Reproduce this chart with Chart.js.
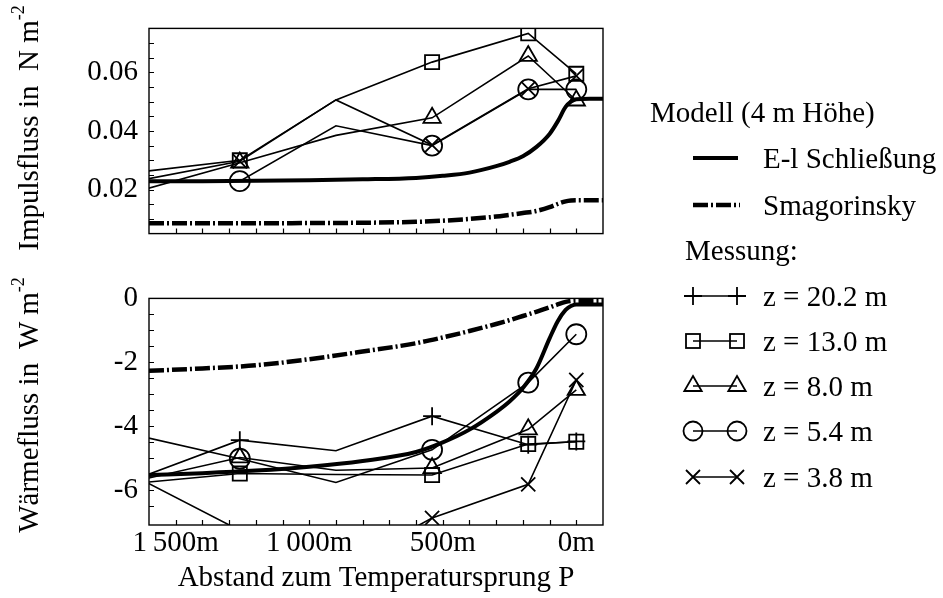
<!DOCTYPE html>
<html>
<head>
<meta charset="utf-8">
<script src="https://cdn.jsdelivr.net/npm/chart.js@4.4.0/dist/chart.umd.min.js"></script>
<style>
body { margin:0; background:#fff; }
#wrap { position:relative; width:943px; height:598px; overflow:hidden; font-family:'Liberation Serif', 'Times New Roman', serif; font-size:29px; color:#000; }
canvas { position:absolute; left:0; }
.ytitle { position:absolute; white-space:nowrap; line-height:1; transform:translate(-50%,-50%) rotate(-90deg); }
.ytitle sup { font-size:18px; position:relative; top:-4px; }
.leg { position:absolute; white-space:nowrap; line-height:1; transform:translateY(-50%); }
#legsym { position:absolute; left:0; top:0; }
</style>
</head>
<body>
<div id="wrap">
  <canvas id="topChart" width="620" height="262" style="top:0"></canvas>
  <canvas id="botChart" width="620" height="328" style="top:270px"></canvas>
  <div class="ytitle" style="left:28px; top:128px">Impulsfluss in&nbsp; N m<sup>-2</sup></div>
  <div class="ytitle" style="left:28px; top:405px">Wärmefluss in&nbsp; W m<sup>-2</sup></div>
  <svg id="legsym" width="943" height="598"></svg>
  <div id="legtext"></div>
</div>
<script>
// distances of the measurement masts (m before the jump P), left to right
const distances = [1620, 1260, 900, 540, 180, 0];
const hasMarker = [false, true, false, true, true, true];

// momentum flux, N m-2
const impSquare   = [0.0262, 0.0300, 0.0506, 0.0635, 0.0733, 0.0595];
const impTriangle = [0.0200, 0.0292, 0.0385, 0.0445, 0.0656, 0.0504];
const impCircle   = [0.0228, 0.0229, 0.0418, 0.0350, 0.0542, 0.0542];
const impCross    = [0.0234, 0.0297, 0.0506, 0.0352, 0.0544, 0.0588];

// heat flux, W m-2
const heatPlus     = [-5.55, -4.43, -4.76, -3.68, -4.57, -4.47];
const heatSquare   = [-5.75, -5.47, -5.50, -5.52, -4.55, -4.48];
const heatTriangle = [-5.65, -4.97, -5.37, -5.30, -4.09, -2.86];
const heatCircle   = [-4.33, -5.01, -5.75, -4.73, -2.63, -1.12];
const heatCross    = [-5.70, -7.25, -8.50, -6.86, -5.81, -2.55];

// model runs (4 m height)
const modelDist  = [1600, 1400, 1200, 1000, 800, 600, 500, 400, 300, 250, 200, 150, 100, 70, 40, 20, 0, -50, -100];
const impEl      = [0.0229, 0.0229, 0.0230, 0.0232, 0.0235, 0.0240, 0.0247, 0.0258, 0.0280, 0.0295, 0.0314, 0.0345, 0.0390, 0.0432, 0.0482, 0.0500, 0.0508, 0.0510, 0.0510];
const impSmag    = [0.0085, 0.0085, 0.0085, 0.0086, 0.0087, 0.0090, 0.0094, 0.0100, 0.0108, 0.0114, 0.0120, 0.0127, 0.0140, 0.0151, 0.0160, 0.0163, 0.0164, 0.0164, 0.0164];
const heatEl     = [-5.52, -5.46, -5.38, -5.26, -5.08, -4.80, -4.50, -4.10, -3.55, -3.22, -2.80, -2.20, -1.25, -0.72, -0.36, -0.24, -0.19, -0.19, -0.19];
const heatSmag   = [-2.26, -2.19, -2.09, -1.90, -1.66, -1.40, -1.22, -1.02, -0.80, -0.68, -0.55, -0.42, -0.28, -0.19, -0.11, -0.08, -0.07, -0.07, -0.07];

// axis labels
const distTicks = [1500, 1000, 500, 0];
const distTickLabels = ['1\u2009500m', '1\u2009000m', '500m', '0m'];
const impTicks = [0.02, 0.04, 0.06];
const heatTicks = [0, -2, -4, -6];

const legendItems = ['z = 20.2 m', 'z = 13.0 m', 'z = 8.0 m', 'z = 5.4 m', 'z = 3.8 m'];

const FONT = { family: "'Liberation Serif', 'Times New Roman', serif", size: 29 };
const HEAT_MIN = -7.08;

function pts(xs, ys) {
    return xs.map((x, i) => ({ x: x, y: ys[i] }));
}

function measSet(label, ys, style, yMin) {
    return {
        label: label,
        data: pts(distances, ys),
        borderColor: '#000',
        borderWidth: 1.6,
        pointStyle: style,
        // no symbol where the point lies outside the frame
        pointRadius: hasMarker.map((m, i) => (m && ys[i] >= yMin) ? (style === 'cross' ? 9 : 10) : 0),
        pointBorderWidth: 1.8,
        pointBorderColor: '#000',
        pointBackgroundColor: 'rgba(0,0,0,0)',
        tension: 0,
        clip: 0
    };
}

function modelSets(el, smag) {
    return [{
        label: 'E-l Schließung',
        data: pts(modelDist, el),
        borderColor: '#000',
        borderWidth: 4,
        pointRadius: 0,
        cubicInterpolationMode: 'monotone',
        clip: 0
    }, {
        label: 'Smagorinsky',
        data: pts(modelDist, smag),
        borderColor: '#000',
        borderWidth: 4.5,
        borderDash: [15, 3, 2, 3],
        pointRadius: 0,
        cubicInterpolationMode: 'monotone',
        clip: 0
    }];
}

// box round the plot and short ticks pointing inwards
const innerTicks = {
    id: 'innerTicks',
    afterDatasetsDraw(chart) {
        const ctx = chart.ctx;
        const a = chart.chartArea;
        const xs = chart.scales.x, ys = chart.scales.y;
        ctx.save();
        ctx.strokeStyle = '#000';
        ctx.lineWidth = 1.2;
        ctx.beginPath();
        xs.ticks.forEach(t => {
            const px = Math.round(xs.getPixelForValue(t.value)) + 0.5;
            if (px <= a.left + 1 || px >= a.right - 1) return;
            ctx.moveTo(px, a.bottom);
            ctx.lineTo(px, a.bottom - 5);
        });
        ys.ticks.forEach(t => {
            const py = Math.round(ys.getPixelForValue(t.value)) + 0.5;
            if (py <= a.top + 1 || py >= a.bottom - 1) return;
            ctx.moveTo(a.left, py);
            ctx.lineTo(a.left + 5, py);
        });
        ctx.stroke();
        ctx.lineWidth = 1.4;
        ctx.strokeRect(a.left, a.top, a.right - a.left, a.bottom - a.top);
        ctx.restore();
    }
};

function xScale(showLabels) {
    return {
        type: 'linear',
        reverse: true,
        min: -100,
        max: 1600,
        grid: { display: false, drawTicks: false },
        border: { display: false },
        ticks: {
            display: showLabels,
            stepSize: 100,
            autoSkip: false,
            maxRotation: 0,
            padding: 1,
            color: '#000',
            font: FONT,
            callback: v => {
                const i = distTicks.indexOf(v);
                return i >= 0 ? distTickLabels[i] : '';
            }
        },
        title: {
            display: showLabels,
            text: 'Abstand zum Temperatursprung P',
            color: '#000',
            font: FONT,
            padding: { top: 0, bottom: 2 }
        },
        afterFit: s => { s.height = showLabels ? 73 : 13; }
    };
}

function yScale(min, max, step, labels, fmt) {
    return {
        type: 'linear',
        min: min,
        max: max,
        grid: { display: false, drawTicks: false },
        border: { display: false },
        ticks: {
            stepSize: step,
            autoSkip: false,
            padding: 11,
            color: '#000',
            font: FONT,
            callback: v => {
                const hit = labels.find(l => Math.abs(l - v) < step / 10);
                return hit === undefined ? '' : fmt(hit);
            }
        },
        afterFit: s => { s.width = 149; }
    };
}

const common = {
    responsive: false,
    animation: false,
    devicePixelRatio: 1,
    plugins: { legend: { display: false }, tooltip: { enabled: false } }
};

new Chart(document.getElementById('topChart'), {
    type: 'line',
    data: {
        datasets: modelSets(impEl, impSmag).concat([
            measSet('z = 13.0 m', impSquare, 'rect', 0.005),
            measSet('z = 8.0 m', impTriangle, 'triangle', 0.005),
            measSet('z = 5.4 m', impCircle, 'circle', 0.005),
            measSet('z = 3.8 m', impCross, 'crossRot', 0.005)
        ])
    },
    options: Object.assign({}, common, {
        layout: { padding: { top: 22, right: 17, left: 0, bottom: 0 } },
        scales: {
            x: xScale(false),
            y: yScale(0.005, 0.075, 0.005, impTicks, v => v.toFixed(2))
        }
    }),
    plugins: [innerTicks]
});

new Chart(document.getElementById('botChart'), {
    type: 'line',
    data: {
        datasets: modelSets(heatEl, heatSmag).concat([
            measSet('z = 20.2 m', heatPlus, 'cross', HEAT_MIN),
            measSet('z = 13.0 m', heatSquare, 'rect', HEAT_MIN),
            measSet('z = 8.0 m', heatTriangle, 'triangle', HEAT_MIN),
            measSet('z = 5.4 m', heatCircle, 'circle', HEAT_MIN),
            measSet('z = 3.8 m', heatCross, 'crossRot', HEAT_MIN)
        ])
    },
    options: Object.assign({}, common, {
        layout: { padding: { top: 25, right: 17, left: 0, bottom: 0 } },
        scales: {
            x: xScale(true),
            y: yScale(HEAT_MIN, 0, 0.5, heatTicks, v => String(v))
        }
    }),
    plugins: [innerTicks]
});

// legend on the right
const legText = document.getElementById('legtext');
function addText(txt, x, y) {
    const d = document.createElement('div');
    d.className = 'leg';
    d.style.left = x + 'px';
    d.style.top = y + 'px';
    d.textContent = txt;
    legText.appendChild(d);
}
addText('Modell (4 m Höhe)', 650, 112);
addText('E-l Schließung', 763, 158);
addText('Smagorinsky', 763, 205);
addText('Messung:', 685, 250);

const svg = document.getElementById('legsym');
const NS = 'http://www.w3.org/2000/svg';
function el(tag, attrs) {
    const e = document.createElementNS(NS, tag);
    for (const k in attrs) e.setAttribute(k, attrs[k]);
    e.setAttribute('stroke', '#000');
    if (!attrs.fill) e.setAttribute('fill', 'none');
    svg.appendChild(e);
    return e;
}
el('line', { x1: 693, y1: 158, x2: 738, y2: 158, 'stroke-width': 4 });
el('line', { x1: 693, y1: 205, x2: 740, y2: 205, 'stroke-width': 4.5, 'stroke-dasharray': '15,3,2,3' });

function marker(style, cx, cy) {
    if (style === 'cross') {
        el('path', { d: `M${cx - 9},${cy}H${cx + 9}M${cx},${cy - 9}V${cy + 9}`, 'stroke-width': 1.8 });
    } else if (style === 'rect') {
        el('rect', { x: cx - 7, y: cy - 7, width: 14, height: 14, 'stroke-width': 1.8 });
    } else if (style === 'triangle') {
        el('path', { d: `M${cx},${cy - 10}L${cx + 8.7},${cy + 5}L${cx - 8.7},${cy + 5}Z`, 'stroke-width': 1.8 });
    } else if (style === 'circle') {
        el('circle', { cx: cx, cy: cy, r: 9.5, 'stroke-width': 1.8 });
    } else {
        el('path', { d: `M${cx - 7},${cy - 7}L${cx + 7},${cy + 7}M${cx + 7},${cy - 7}L${cx - 7},${cy + 7}`, 'stroke-width': 1.8 });
    }
}
const legStyles = ['cross', 'rect', 'triangle', 'circle', 'crossRot'];
const legRows = [296, 341, 386, 431, 477];
legendItems.forEach((txt, i) => {
    const y = legRows[i];
    el('line', { x1: 693, y1: y, x2: 737, y2: y, 'stroke-width': 1.6 });
    marker(legStyles[i], 693, y);
    marker(legStyles[i], 737, y);
    addText(txt, 763, y);
});
</script>
</body>
</html>
